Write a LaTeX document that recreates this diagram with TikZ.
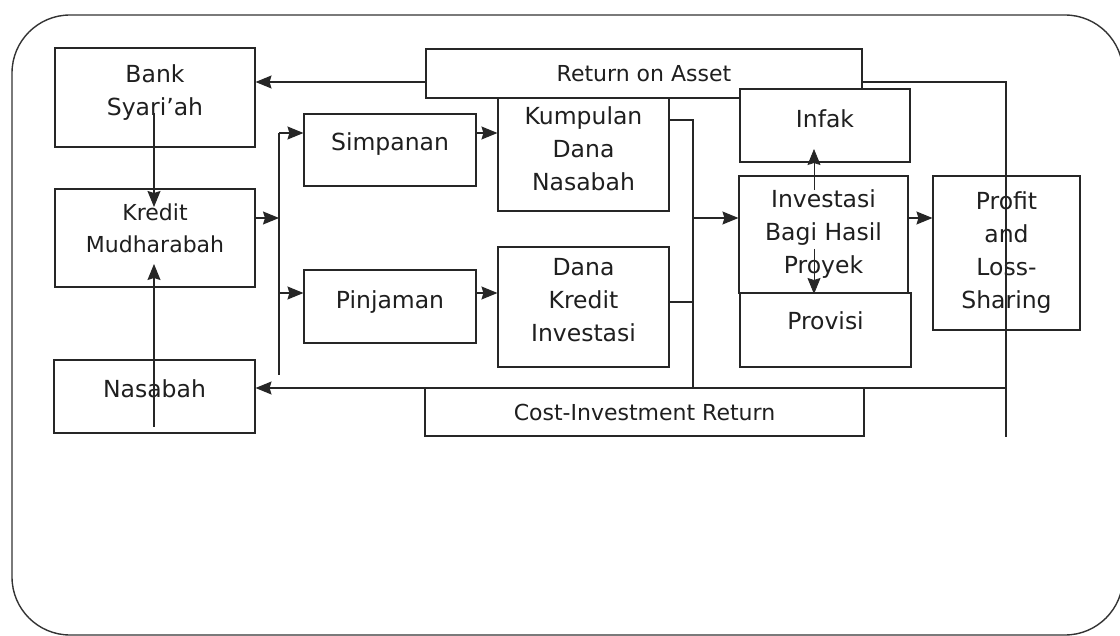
\documentclass[tikz,border=0pt]{standalone}
\usepackage{fontspec}
\setmainfont{DejaVu Sans}
\usetikzlibrary{arrows.meta}
\newcommand{\liftx}[2]{\raisebox{#1}[\height][\depth]{\begin{tabular}{@{}c@{}}#2\end{tabular}}}
\begin{document}
\begin{tikzpicture}[x=1pt,y=-1pt,
  box/.style={draw=black!85, line width=1.1pt, fill=white, align=center, inner sep=0pt,
    font=\fontsize{23.5}{33}\selectfont, text=black!88},
  small/.style={font=\fontsize{22}{32}\selectfont},
  ln/.style={draw=black!85, line width=1.1pt},
  arr/.style={ln, -{Stealth[length=16pt,width=13pt,inset=2pt]}}]
\useasboundingbox (0,0) rectangle (1120,636);
\fill[white] (0,0) rectangle (1120,636);
% outer frame
\draw[black!80, line width=1.4pt, rounded corners=58pt] (12,15) rectangle (1123,635);

% boxes
\node[box, small, minimum width=436pt, minimum height=49pt] (roa) at (644,73.5) {Return on Asset};
\node[box, minimum width=200pt, minimum height=99pt] (bank) at (155,97.5) {\liftx{5pt}{Bank\\Syari'ah}};
\node[box, small, minimum width=200pt, minimum height=98pt] (kredit) at (155,238) {\liftx{8pt}{Kredit\\Mudharabah}};
\node[box, minimum width=201pt, minimum height=73pt] (nasabah) at (154.5,396.5) {\liftx{6pt}{Nasabah}};
\node[box, minimum width=172pt, minimum height=72pt] (simp) at (390,150) {\liftx{6pt}{Simpanan}};
\node[box, minimum width=172pt, minimum height=73pt] (pinj) at (390,306.5) {\liftx{5pt}{Pinjaman}};
\node[box, minimum width=171pt, minimum height=113pt] (kump) at (583.5,154.5) {\liftx{4pt}{Kumpulan\\Dana\\Nasabah}};
\node[box, minimum width=171pt, minimum height=120pt] (dana) at (583.5,307) {\liftx{5pt}{Dana\\Kredit\\Investasi}};
\node[box, minimum width=170pt, minimum height=73pt] (infak) at (825,125.5) {\liftx{5pt}{Infak}};
\node[box, minimum width=169pt, minimum height=117pt] (invest) at (823.5,234.5) {Investasi\\Bagi Hasil\\Proyek};
\node[box, minimum width=171pt, minimum height=74pt] (provisi) at (825.5,330) {\liftx{7pt}{Provisi}};
\node[box, minimum width=147pt, minimum height=154pt] (profit) at (1006.5,253) {Profit\\and\\Loss-\\Sharing};
\node[box, small, minimum width=439pt, minimum height=48pt] (cir) at (644.5,412) {Cost-Investment Return};

% junction coordinates
\coordinate (rt) at (1006,82);
\coordinate (rb) at (1006,437);
\coordinate (rn) at (1006,388);
\coordinate (bR1) at (693,120);
\coordinate (bR2) at (693,302);
\coordinate (bR3) at (693,218);
\coordinate (bL1) at (279,133);
\coordinate (bL2) at (279,375);
\coordinate (bL3) at (279,218);
\coordinate (bL4) at (279,293);
\coordinate (v1) at (154,113);
\coordinate (v1e) at (154,207);
\coordinate (v2) at (154,427);
\coordinate (v2e) at (154,264);
\coordinate (i1) at (814,190);
\coordinate (i1e) at (814,149);
\coordinate (p1) at (814,249);
\coordinate (p1e) at (814,294);

% return loop
\draw[ln] (roa.east |- rt) -- (rt) -- (rb);
\draw[arr] (roa.west |- rt) -- (bank.east |- rt);
\draw[arr] (rn) -- (nasabah.east |- rn);

% right bus
\draw[ln] (kump.east |- bR1) -- (bR1) -- (bR1 |- rn);
\draw[ln] (dana.east |- bR2) -- (bR2);
\draw[arr] (bR3) -- (invest.west |- bR3);
\draw[arr] (invest.east |- bR3) -- (profit.west |- bR3);

% left bus
\draw[ln] (bL1) -- (bL2);
\draw[arr] (kredit.east |- bL3) -- (bL3);
\draw[arr] (bL1) -- (simp.west |- bL1);
\draw[arr] (bL4) -- (pinj.west |- bL4);
\draw[arr] (simp.east |- bL1) -- (kump.west |- bL1);
\draw[arr] (pinj.east |- bL4) -- (dana.west |- bL4);

% vertical links
\draw[arr] (v1) -- (v1e);
\draw[arr] (v2) -- (v2e);
\draw[arr, line width=0.8pt] (i1) -- (i1e);
\draw[arr, line width=0.8pt] (p1) -- (p1e);
\end{tikzpicture}
\end{document}
